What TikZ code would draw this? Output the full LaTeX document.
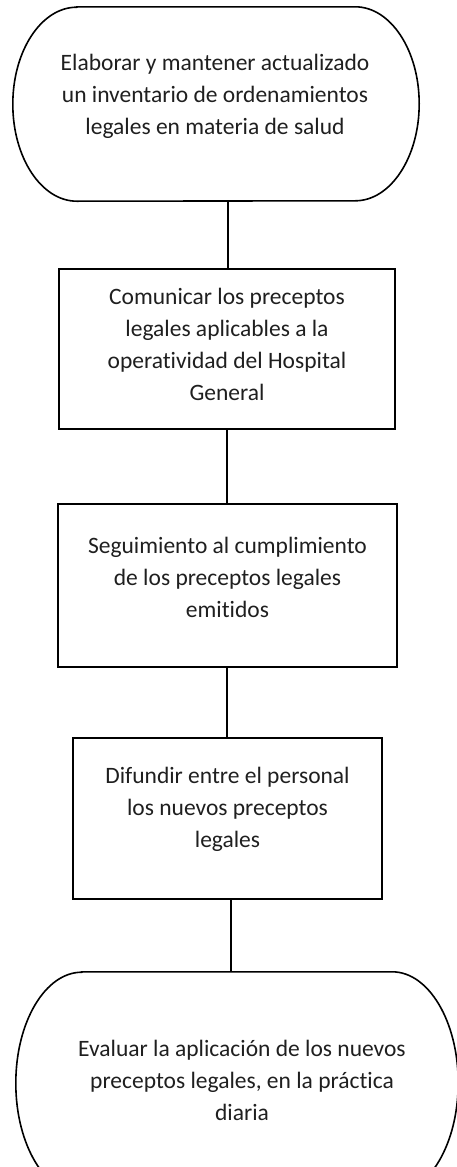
\documentclass[tikz,border=0pt]{standalone}
\usepackage{fontspec}
\setmainfont[Ligatures={NoCommon}]{Carlito}
\begin{document}
\begin{tikzpicture}[x=1pt,y=-1pt,
  ln/.style={line width=1.6pt, draw=black},
  txt/.style={align=center, font=\fontsize{23.5}{32}\selectfont, inner sep=0pt, text=black!88},
  procbox/.style={draw=black, line width=1.6pt, inner sep=0pt},
  termnode/.style={inner sep=0pt, draw=none}]
\useasboundingbox (0,0) rectangle (457,1167);
\begin{scope}
\clip (0,0) rectangle (457,1167);
% top terminator
\node[termnode, minimum width=406pt, minimum height=194pt] (t1) at (216,104) {};
\draw[ln] ([xshift=64pt]t1.north west) -- ([xshift=-64pt]t1.north east)
  arc[start angle=90, end angle=-90, x radius=64pt, y radius=97pt]
  -- ([xshift=64pt]t1.south west)
  arc[start angle=270, end angle=90, x radius=64pt, y radius=97pt] -- cycle;
\node[txt] (t1txt) at (215,96) {Elaborar y mantener actualizado\\un inventario de ordenamientos\\legales en materia de salud};
% boxes
\node[procbox, minimum width=336pt, minimum height=160pt] (b2) at (227,349) {};
\node[txt] (b2txt) at (227,344.5) {Comunicar los preceptos\\legales aplicables a la\\operatividad del Hospital\\General};
\node[procbox, minimum width=339pt, minimum height=163pt] (b3) at (227.5,585.5) {};
\node[txt] (b3txt) at (227.5,577) {Seguimiento al cumplimiento\\de los preceptos legales\\emitidos};
\node[procbox, minimum width=309pt, minimum height=161pt] (b4) at (227.5,818.5) {};
\node[txt] (b4txt) at (227.5,809) {Difundir entre el personal\\los nuevos preceptos\\legales};
% bottom terminator
\node[termnode, minimum width=442pt, minimum height=222pt] (t5) at (237,1083) {};
\draw[ln] ([xshift=66pt]t5.north west) -- ([xshift=-66pt]t5.north east)
  arc[start angle=90, end angle=-90, x radius=66pt, y radius=111pt]
  -- ([xshift=66pt]t5.south west)
  arc[start angle=270, end angle=90, x radius=66pt, y radius=111pt] -- cycle;
\node[txt] (t5txt) at (242,1080) {Evaluar la aplicación de los nuevos\\preceptos legales, en la práctica\\diaria};
% connectors
\draw[ln] ([xshift=1pt]b2.north |- t1.south) -- ([xshift=1pt]b2.north);
\draw[ln] (b2.south) -- (b2.south |- b3.north);
\draw[ln] ([xshift=-0.5pt]b3.south) -- ([xshift=-0.5pt]b4.north);
\draw[ln] ([xshift=3.5pt]b4.south) -- ([xshift=3.5pt]b4.south |- t5.north);
\end{scope}
\end{tikzpicture}
\end{document}
